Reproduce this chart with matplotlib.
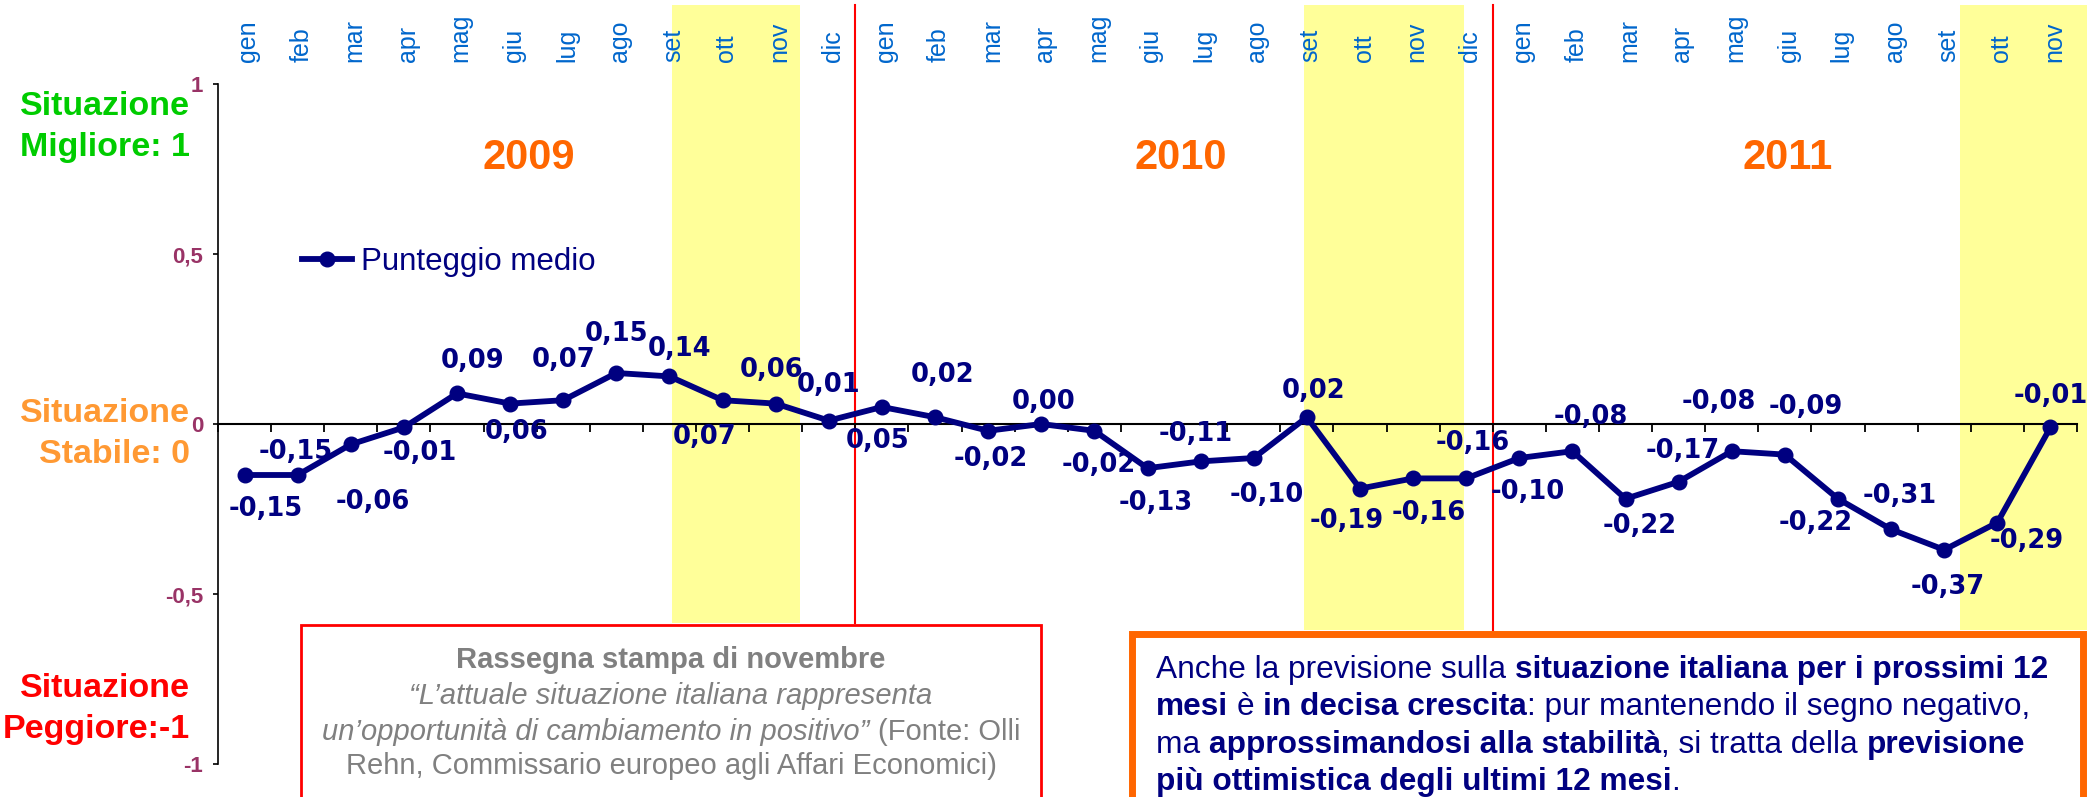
import numpy as np
import matplotlib
matplotlib.use("Agg")
import matplotlib.pyplot as plt
from matplotlib.patches import Rectangle
from matplotlib.transforms import blended_transform_factory

# Dati: punteggio medio mensile 2009 - 2011
mesi_anno = ["gen", "feb", "mar", "apr", "mag", "giu",
             "lug", "ago", "set", "ott", "nov", "dic"]
valori_2009 = [-0.15, -0.15, -0.06, -0.01, 0.09, 0.06, 0.07, 0.15, 0.14, 0.07, 0.06, 0.01]
valori_2010 = [0.05, 0.02, -0.02, 0.00, -0.02, -0.13, -0.11, -0.10, 0.02, -0.19, -0.16, -0.16]
valori_2011 = [-0.10, -0.08, -0.22, -0.17, -0.08, -0.09, -0.22, -0.31, -0.37, -0.29, -0.01]
anni = ["2009", "2010", "2011"]

mesi = mesi_anno + mesi_anno + mesi_anno[:len(valori_2011)]
valori = valori_2009 + valori_2010 + valori_2011
etichette = [f"{v:.2f}".replace(".", ",") for v in valori]

# spostamento delle etichette rispetto al punto (pixel, y verso il basso)
offset_etichette = [(21, 34), (-2, -23), (22, 58), (16, 26), (16, -32), (6, 28),
                    (0, -40), (0, -39), (10, -27), (-18, 37), (-4, -34), (0, -36),
                    (-4, 34), (8, -42), (3, 28), (2, -22), (4, 34), (8, 35),
                    (-5, -27), (13, 37), (7, -26), (-13, 32), (16, 35), (7, -35),
                    (8, 34), (18, -34), (14, 27), (4, -31), (-13, -49), (21, -48),
                    (-22, 24), (9, -33), (3, 37), (29, 18), (0, -31)]

W, H = 2094, 797
fig = plt.figure(figsize=(W / 100, H / 100), dpi=100)


def fx(px):
    return px / W


def fy(py):
    return 1 - py / H


NAVY = "#000080"
AX_TOP, AX_BOT = 84, 764
ax = fig.add_axes([fx(218), fy(AX_BOT), fx(2077) - fx(218), (AX_BOT - AX_TOP) / H])


def ay(py):
    # pixel verticale -> coordinate assi
    return (AX_BOT - py) / (AX_BOT - AX_TOP)


x = np.arange(len(valori))
ax.set_xlim(-0.5, len(valori) - 0.5)
ax.set_ylim(-1, 1)

# fasce gialle (set-nov) e separatori rossi degli anni
xt = ax.get_xaxis_transform()
for x0, x1, yb in [(8.05, 10.45, 623), (19.95, 22.95, 630), (32.3, 34.68, 630)]:
    ax.add_patch(Rectangle((x0, ay(yb)), x1 - x0, ay(5) - ay(yb), transform=xt,
                           facecolor="#FFFF99", edgecolor="none", zorder=0, clip_on=False))
for xr, yb in [(11.5, 623), (23.5, 630)]:
    ax.plot([xr, xr], [ay(yb), ay(5)], transform=xt, color="red", lw=1.5,
            zorder=1, clip_on=False)

ax.plot(x, valori, color=NAVY, lw=4.2, marker="o", ms=10.5,
        label="Punteggio medio", zorder=5, clip_on=False)

for i, (v, lab) in enumerate(zip(valori, etichette)):
    dx, dy = offset_etichette[i]
    ax.annotate(lab, (i, v), xytext=(dx * 0.72, -dy * 0.72), textcoords="offset points",
                ha="center", va="center", fontsize=18.5, fontweight="bold",
                color=NAVY, family="DejaVu Sans", zorder=6)

# assi
for s in ["top", "right"]:
    ax.spines[s].set_visible(False)
ax.spines["bottom"].set_position(("data", 0))
ax.spines["bottom"].set_linewidth(1.5)
ax.spines["left"].set_linewidth(1.2)
ax.set_xticks(np.arange(-0.5, len(valori), 1))
ax.set_xticklabels([])
ax.tick_params(axis="x", direction="out", length=5.5, width=1.3)
ax.set_yticks([-1, -0.5, 0, 0.5, 1])
ax.set_yticklabels(["-1", "-0,5", "0", "0,5", "1"], fontsize=16, fontweight="bold",
                   color="#993366", family="Liberation Sans")
ax.tick_params(axis="y", direction="out", length=3.6, width=1.2, pad=7)

# mesi in alto
bt = blended_transform_factory(ax.transData, fig.transFigure)
for i, m in enumerate(mesi):
    ax.text(i + 0.07, fy(62), m, transform=bt, rotation=90, ha="center", va="bottom",
            fontsize=18, color="#0066CC", family="Liberation Sans", zorder=4)

# anni
for anno, px in zip(anni, [529, 1181, 1788]):
    fig.text(fx(px), fy(158), anno, ha="center", va="center", fontsize=30,
             fontweight="bold", color="#FF6600", family="Liberation Sans")

# scritte a sinistra
for testo, py, col in [("Situazione", 115, "#00CC00"), ("Migliore: 1", 156, "#00CC00"),
                       ("Situazione", 422, "#FF9933"), ("Stabile: 0", 463, "#FF9933"),
                       ("Situazione", 697, "#FF0000"), ("Peggiore:-1", 738, "#FF0000")]:
    fig.text(fx(190), fy(py), testo, ha="right", va="baseline", fontsize=24.5,
             fontweight="bold", color=col, family="Liberation Sans")

leg = ax.legend(loc="center left", bbox_to_anchor=(fx(302), fy(262)),
                bbox_transform=fig.transFigure, frameon=False,
                prop={"family": "Liberation Sans", "size": 22.5},
                handlelength=1.6, handletextpad=0.3, borderpad=0, borderaxespad=0)
for t in leg.get_texts():
    t.set_color(NAVY)

# riquadri
fig.add_artist(Rectangle((fx(301), fy(830)), fx(1040.5) - fx(301), fy(625.4) - fy(830),
                         transform=fig.transFigure, facecolor="white",
                         edgecolor="#FF0000", lw=2, zorder=2))
fig.add_artist(Rectangle((fx(1132), fy(840)), fx(2082.5) - fx(1132), fy(633.5) - fy(840),
                         transform=fig.transFigure, facecolor="white",
                         edgecolor="#FF6600", lw=5, zorder=2))

renderer = fig.canvas.get_renderer()


def larghezza(s, **kw):
    t = fig.text(0, 0, "|" + s + "|", **kw)
    w = t.get_window_extent(renderer).width
    t.set_text("||")
    w -= t.get_window_extent(renderer).width
    t.remove()
    return w


def riga(x_px, y_px, pezzi, ha="left", **kw):
    stili = [dict(fontweight=p[1], fontstyle=p[2], **kw) for p in pezzi]
    larg = [larghezza(p[0], **st) for p, st in zip(pezzi, stili)]
    xc = x_px - sum(larg) / 2 if ha == "center" else x_px
    for p, st, w in zip(pezzi, stili, larg):
        testo = p[0].lstrip(" ")
        lead = len(p[0]) - len(testo)
        xd = xc + (larghezza(" " * lead, **st) if lead else 0)
        fig.text(fx(xd), fy(y_px), testo, ha="left", va="baseline", zorder=4, **st)
        xc += w


N, B, I = "normal", "bold", "italic"
grigio = dict(fontsize=21, color="#808080", family="Liberation Sans")
riga(671, 668, [("Rassegna stampa di novembre", B, N)], ha="center", **grigio)
riga(671, 704, [("\u201cL\u2019attuale situazione italiana rappresenta", N, I)],
     ha="center", **grigio)
riga(671, 740, [("un\u2019opportunit\u00e0 di cambiamento in positivo\u201d", N, I),
                (" (Fonte: Olli", N, N)], ha="center", **grigio)
riga(671, 774, [("Rehn, Commissario europeo agli Affari Economici)", N, N)],
     ha="center", **grigio)

blu = dict(fontsize=22.8, color=NAVY, family="Liberation Sans")
riga(1156, 678, [("Anche la previsione sulla ", N, N),
                 ("situazione italiana per i prossimi 12", B, N)], **blu)
riga(1156, 715, [("mesi", B, N), (" \u00e8 ", N, N), ("in decisa crescita", B, N),
                 (": pur mantenendo il segno negativo,", N, N)], **blu)
riga(1156, 753, [("ma ", N, N), ("approssimandosi alla stabilit\u00e0", B, N),
                 (", si tratta della ", N, N), ("previsione", B, N)], **blu)
riga(1156, 790, [("pi\u00f9 ottimistica degli ultimi 12 mesi", B, N), (".", N, N)], **blu)

fig.savefig("out.png", dpi=100)
